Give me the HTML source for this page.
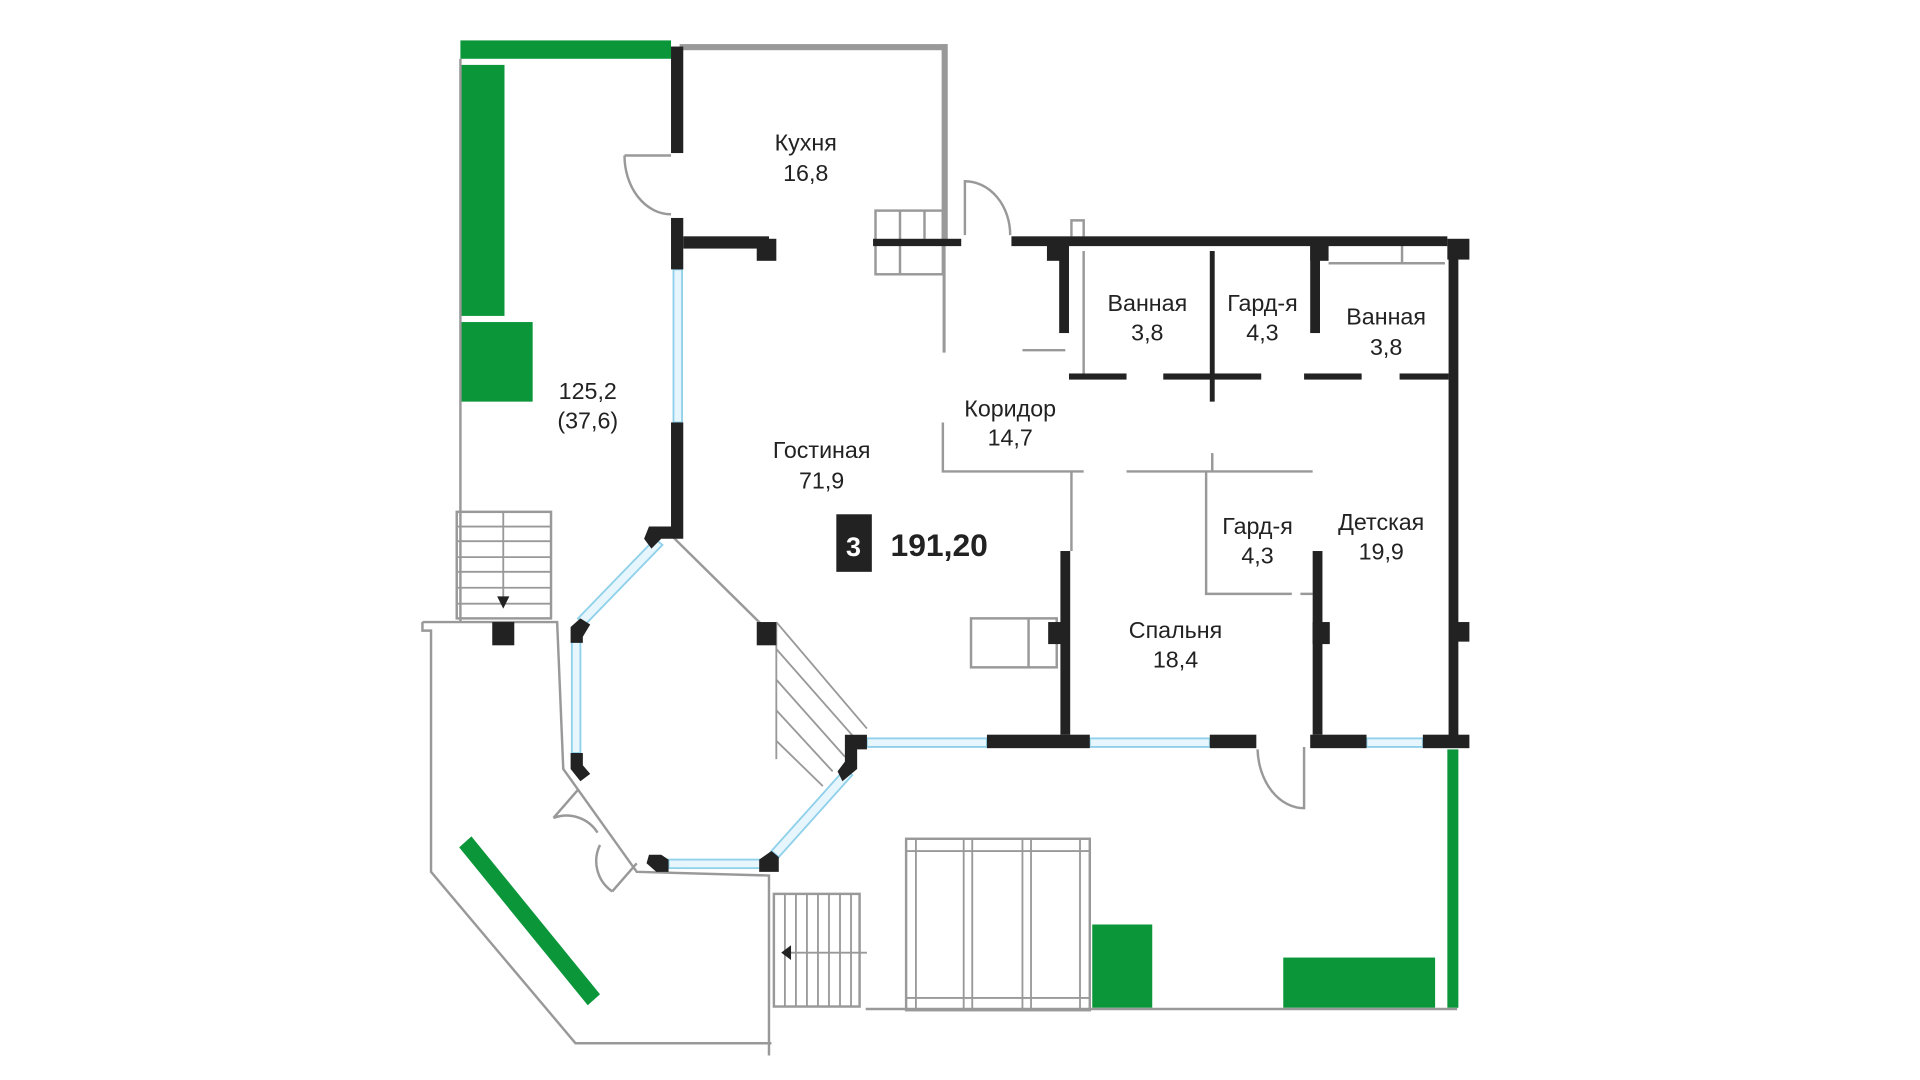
<!DOCTYPE html>
<html><head><meta charset="utf-8"><style>
html,body{margin:0;padding:0;background:#fff;width:1920px;height:1080px;overflow:hidden}
svg{display:block}
text{font-family:"Liberation Sans",sans-serif;fill:#222;font-size:19px;text-anchor:middle}
</style></head><body>
<svg width="1920" height="1080" viewBox="0 0 1568 882" preserveAspectRatio="none">
<rect width="1570" height="890" fill="#fff"/>
<g fill="#0a9639">
<rect x="376" y="33" width="172" height="15"/>
<rect x="376" y="53" width="36" height="205"/>
<rect x="376" y="263" width="59" height="65"/>
<polygon points="375,692 385,683 490,812 480,821"/>
<rect x="892" y="755" width="49" height="68"/>
<rect x="1048" y="782" width="124" height="41"/>
<rect x="1182" y="612" width="9" height="211"/>
</g>
<g stroke="#999" stroke-width="2" fill="none">
<line x1="376" y1="48" x2="376" y2="508"/>
<polyline points="345,508 455,508 460,628 520,712 628,715 628,730 628,862"/>
<polyline points="345,508 345,515 352,515 352,712 470,852 630,852"/>
<line x1="707" y1="824" x2="1190" y2="824"/>
<polyline points="770,345 770,385 885,385"/>
<line x1="920" y1="385" x2="1072" y2="385"/>
<line x1="875" y1="385" x2="875" y2="450"/>
<polyline points="985,385 985,485 1055,485"/>
<line x1="1062" y1="485" x2="1072" y2="485"/>
<line x1="990" y1="370" x2="990" y2="385"/>
<line x1="835" y1="286" x2="870" y2="286"/>
<polyline points="875,193 875,180 885,180 885,193"/>
<line x1="885" y1="205" x2="885" y2="305"/>
<polyline points="1085,215 1180,215"/><line x1="1145" y1="200" x2="1145" y2="215"/>
<rect x="715" y="172" width="55" height="52"/><line x1="735" y1="172" x2="735" y2="224"/><line x1="755" y1="172" x2="755" y2="195"/>
<rect x="793" y="505" width="70" height="40"/><line x1="840" y1="505" x2="840" y2="545"/>
<path d="M510,127 L548,127 M510,127 A38,48 0 0 0 548,175"/>
<path d="M788,192 L788,148 A37,44 0 0 1 825,192"/>
<path d="M1065,610 L1065,660 A38,50 0 0 1 1027,612"/>
<path d="M452,668 L472,645 M452,668 A30,30 0 0 1 488,680 M520,705 L500,728 M490,690 A30,30 0 0 0 500,728"/>
<line x1="548" y1="437" x2="625" y2="513"/>
<rect x="373" y="418" width="77" height="87"/>
<g stroke-width="1.5"><line x1="373" y1="430" x2="450" y2="430"/><line x1="373" y1="442" x2="450" y2="442"/><line x1="373" y1="455" x2="450" y2="455"/><line x1="373" y1="467" x2="450" y2="467"/><line x1="373" y1="480" x2="450" y2="480"/><line x1="373" y1="493" x2="450" y2="493"/><line x1="411" y1="418" x2="411" y2="490"/></g>
<rect x="632" y="730" width="70" height="92"/>
<g stroke-width="1.5"><line x1="641" y1="730" x2="641" y2="822"/><line x1="650" y1="730" x2="650" y2="822"/><line x1="659" y1="730" x2="659" y2="822"/><line x1="668" y1="730" x2="668" y2="822"/><line x1="677" y1="730" x2="677" y2="822"/><line x1="686" y1="730" x2="686" y2="822"/><line x1="695" y1="730" x2="695" y2="822"/><line x1="645" y1="778" x2="708" y2="778"/></g>
<g stroke-width="1.5"><line x1="634" y1="508" x2="708" y2="595"/><line x1="634" y1="530" x2="700" y2="605"/><line x1="634" y1="555" x2="690" y2="618"/><line x1="634" y1="580" x2="680" y2="630"/><line x1="634" y1="605" x2="672" y2="642"/><line x1="634" y1="508" x2="634" y2="620"/></g>
<rect x="740" y="685" width="150" height="140"/>
<g stroke-width="1.5"><line x1="748" y1="685" x2="748" y2="825"/><line x1="787" y1="685" x2="787" y2="825"/><line x1="794" y1="685" x2="794" y2="825"/><line x1="835" y1="685" x2="835" y2="825"/><line x1="842" y1="685" x2="842" y2="825"/><line x1="882" y1="685" x2="882" y2="825"/><line x1="740" y1="695" x2="890" y2="695"/><line x1="740" y1="815" x2="890" y2="815"/></g>
</g>
<rect x="555" y="36" width="218" height="5" fill="#999"/>
<rect x="769" y="36" width="5" height="164" fill="#999"/>
<line x1="771" y1="200" x2="771" y2="288" stroke="#999" stroke-width="2.5"/>
<g fill="#e6f6fc" stroke="#8fd0ea" stroke-width="1.5">
<rect x="708" y="603" width="98" height="7"/>
<rect x="890" y="603" width="98" height="7"/>
<rect x="1116" y="603" width="46" height="7"/>
<rect x="550" y="220" width="7" height="125"/>
<rect x="546" y="702" width="80" height="7"/>
<polygon points="535,440 541,445 478,510 472,505"/>
<rect x="467" y="520" width="7" height="95"/>
<polygon points="690,628 696,633 636,700 630,695"/>
</g>
<g fill="#222">
<rect x="548" y="38" width="10" height="87"/>
<rect x="548" y="178" width="10" height="42"/>
<rect x="558" y="193" width="70" height="10"/>
<rect x="618" y="195" width="16" height="18"/>
<rect x="548" y="345" width="10" height="85"/>
<polygon points="530,430 558,430 558,440 540,440 532,448 526,440"/>
<rect x="713" y="195" width="72" height="6"/>
<rect x="826" y="193" width="356" height="8"/>
<rect x="855" y="199" width="15" height="14"/>
<rect x="1070" y="199" width="15" height="14"/>
<rect x="1182" y="195" width="18" height="17"/>
<rect x="865" y="200" width="8" height="72"/>
<rect x="1070" y="200" width="8" height="72"/>
<rect x="1183" y="200" width="8" height="410"/>
<rect x="1190" y="508" width="10" height="16"/>
<rect x="873" y="305" width="47" height="5"/>
<rect x="950" y="305" width="80" height="5"/>
<rect x="1065" y="305" width="47" height="5"/>
<rect x="1143" y="305" width="40" height="5"/>
<rect x="988" y="205" width="4" height="123"/>
<rect x="866" y="450" width="8" height="150"/>
<rect x="856" y="508" width="12" height="18"/>
<rect x="1072" y="450" width="8" height="150"/>
<rect x="1072" y="508" width="14" height="18"/>
<rect x="806" y="600" width="84" height="11"/>
<rect x="988" y="600" width="38" height="11"/>
<rect x="1070" y="600" width="46" height="11"/>
<rect x="1162" y="600" width="38" height="11"/>
<polygon points="690,600 708,600 708,612 700,612 700,628 688,638 684,630 690,622"/>
<rect x="618" y="508" width="16" height="19"/>
<rect x="402" y="508" width="18" height="19"/>
<polygon points="474,505 482,510 476,520 476,525 466,525 466,512"/>
<polygon points="466,615 476,615 476,625 482,632 474,638 466,628"/>
<polygon points="530,698 540,698 546,702 546,712 536,712 528,705"/>
<polygon points="620,702 630,695 636,700 636,712 620,712"/>
<polygon points="406,487 416,487 411,497"/>
<polygon points="638,778 646,772 646,784"/>
<rect x="683" y="420" width="29" height="47"/>
</g>
<text x="658" y="123">Кухня</text><text x="658" y="148">16,8</text>
<text x="480" y="326">125,2</text><text x="480" y="350">(37,6)</text>
<text x="671" y="374">Гостиная</text><text x="671" y="399">71,9</text>
<text x="825" y="340">Коридор</text><text x="825" y="364">14,7</text>
<text x="937" y="254">Ванная</text><text x="937" y="278">3,8</text>
<text x="1031" y="254">Гард-я</text><text x="1031" y="278">4,3</text>
<text x="1132" y="265">Ванная</text><text x="1132" y="290">3,8</text>
<text x="1027" y="436">Гард-я</text><text x="1027" y="460">4,3</text>
<text x="1128" y="433">Детская</text><text x="1128" y="457">19,9</text>
<text x="960" y="521">Спальня</text><text x="960" y="545">18,4</text>
<text x="697" y="454" style="fill:#fff;font-weight:bold;font-size:22px">3</text>
<text x="767" y="454" style="font-weight:bold;font-size:26px">191,20</text>
</svg>
</body></html>
